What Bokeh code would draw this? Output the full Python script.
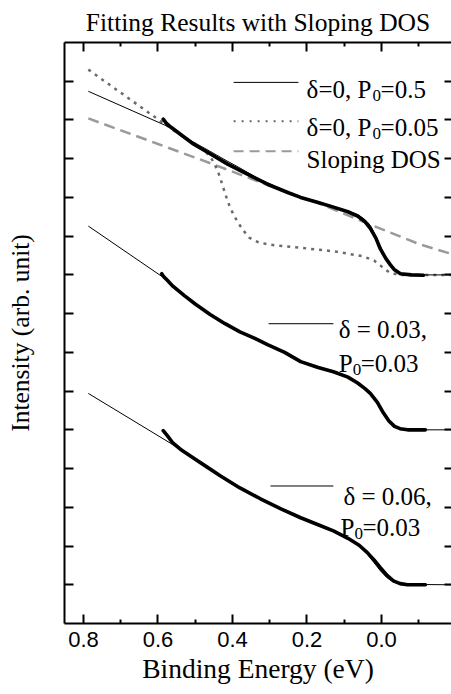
from bokeh.plotting import figure
from bokeh.models import (Range1d, FixedTicker, LinearAxis, Label, PrintfTickFormatter,
                          CustomJSTickFormatter, Title)
from bokeh.embed import file_html
from bokeh.resources import INLINE

# ---------------- data (binding energy in eV, intensity in arb. units) ----------------
x_ticks = [0.8, 0.6, 0.4, 0.2, 0.0]
x_minor = [0.7, 0.5, 0.3, 0.1, -0.1]
y_ticks = list(range(1, 15))

# top spectrum: measured data
top_data_x = [0.586, 0.578, 0.565, 0.548, 0.505, 0.459, 0.413, 0.36, 0.306, 0.25, 0.217, 0.17,
              0.129, 0.09, 0.064, 0.045, 0.03, 0.015, 0.003, -0.012, -0.024, -0.035, -0.051, -0.08, -0.113]
top_data_y = [13.02, 12.92, 12.81, 12.69, 12.38, 12.12, 11.86, 11.6, 11.34, 11.12, 11.0, 10.87,
              10.75, 10.63, 10.52, 10.38, 10.2, 9.95, 9.67, 9.42, 9.26, 9.13, 9.03, 9.0, 8.99]
# top spectrum: fit delta=0, P0=0.5
top_fit_x = [0.787, 0.566, 0.54, 0.505, 0.46, 0.42, 0.38, 0.34, 0.306, 0.26, 0.217, 0.17, 0.129,
             0.09, 0.064, 0.045, 0.03, 0.015, 0.0, -0.015, -0.03, -0.05, -0.08, -0.188]
top_fit_y = [13.74, 12.80, 12.64, 12.43, 12.19, 11.97, 11.76, 11.54, 11.38, 11.17, 11.02, 10.88, 10.77,
             10.65, 10.56, 10.43, 10.28, 10.0, 9.68, 9.40, 9.17, 9.04, 9.0, 9.0]
# top spectrum: fit delta=0, P0=0.05
dot_x = [0.787, 0.593, 0.55, 0.5, 0.47, 0.455, 0.44, 0.428, 0.418, 0.408, 0.397, 0.387, 0.372,
         0.355, 0.33, 0.3, 0.217, 0.12, 0.05, 0.02, 0.0, -0.02, -0.045, -0.188]
dot_y = [14.3, 12.97, 12.68, 12.38, 12.16, 11.98, 11.70, 11.35, 11.05, 10.78, 10.55, 10.38, 10.16,
         9.96, 9.84, 9.78, 9.70, 9.6, 9.48, 9.37, 9.22, 9.07, 9.0, 9.0]
# top spectrum: sloping DOS
dos_x = [0.787, 0.6, 0.45, 0.3, 0.15, 0.03, -0.1, -0.188]
dos_y = [13.04, 12.38, 11.85, 11.3, 10.78, 10.3, 9.8, 9.54]

# middle spectrum (delta=0.03, P0=0.03)
mid_data_x = [0.59, 0.585, 0.575, 0.56, 0.53, 0.5, 0.46, 0.42, 0.38, 0.34, 0.306, 0.26, 0.217, 0.17,
              0.129, 0.09, 0.064, 0.045, 0.03, 0.011, -0.005, -0.02, -0.035, -0.05, -0.07, -0.118]
mid_data_y = [9.03, 8.96, 8.86, 8.71, 8.47, 8.25, 7.98, 7.74, 7.53, 7.36, 7.2, 7.0, 6.76, 6.61,
              6.5, 6.36, 6.21, 6.07, 5.94, 5.71, 5.44, 5.23, 5.09, 5.03, 5.0, 5.0]
mid_fit_x = [0.787, 0.588, 0.56, 0.53, 0.5, 0.46, 0.42, 0.38, 0.34, 0.306, 0.26, 0.217, 0.17, 0.129,
             0.09, 0.064, 0.045, 0.03, 0.011, -0.005, -0.02, -0.035, -0.05, -0.07, -0.188]
mid_fit_y = [10.26, 8.95, 8.71, 8.48, 8.26, 7.99, 7.75, 7.54, 7.36, 7.2, 7.0, 6.78, 6.62, 6.5,
             6.36, 6.22, 6.09, 5.96, 5.72, 5.44, 5.21, 5.08, 5.02, 5.0, 5.0]

# bottom spectrum (delta=0.06, P0=0.03)
bot_data_x = [0.586, 0.575, 0.56, 0.54, 0.505, 0.47, 0.432, 0.38, 0.325, 0.27, 0.217, 0.17, 0.129,
              0.09, 0.06, 0.038, 0.02, 0.003, -0.015, -0.032, -0.05, -0.07, -0.118]
bot_data_y = [4.98, 4.85, 4.66, 4.50, 4.27, 4.05, 3.81, 3.5, 3.22, 2.96, 2.73, 2.55, 2.39,
              2.2, 2.02, 1.83, 1.64, 1.44, 1.24, 1.1, 1.03, 1.0, 1.0]
bot_fit_x = [0.787, 0.54, 0.505, 0.47, 0.432, 0.38, 0.325, 0.27, 0.217, 0.17, 0.129, 0.09, 0.06,
             0.038, 0.02, 0.003, -0.015, -0.035, -0.06, -0.188]
bot_fit_y = [5.94, 4.50, 4.28, 4.06, 3.83, 3.51, 3.22, 2.96, 2.73, 2.55, 2.39, 2.2, 2.0,
             1.79, 1.57, 1.36, 1.18, 1.06, 1.01, 1.0]

SERIF = "Liberation Serif"
SANS = "Liberation Sans"

p = figure(width=451, height=694, output_backend="svg", toolbar_location=None,
           x_range=Range1d(0.851, -0.188), y_range=Range1d(0, 15),
           min_border_left=64, min_border_right=0, min_border_top=40, min_border_bottom=71,
           title=None)
p.grid.visible = False
p.outline_line_color = None
p.background_fill_color = "white"
p.border_fill_color = "white"

blank = CustomJSTickFormatter(code="return ''")

xa = p.xaxis[0]
xa.ticker = FixedTicker(ticks=x_ticks, minor_ticks=x_minor)
xa.formatter = PrintfTickFormatter(format="%.1f")
xa.major_label_text_font = SANS
xa.major_label_text_font_size = "22px"
xa.major_label_standoff = 8
xa.axis_label = "Binding Energy (eV)"
xa.axis_label_text_font = SERIF
xa.axis_label_text_font_size = "27.5px"
xa.axis_label_text_font_style = "normal"
xa.axis_label_standoff = 3

ya = p.yaxis[0]
ya.ticker = FixedTicker(ticks=y_ticks, minor_ticks=[])
ya.formatter = blank
ya.major_label_text_font_size = "1px"
ya.major_label_standoff = 0
ya.axis_label = "Intensity (arb. unit)"
ya.axis_label_text_font = SERIF
ya.axis_label_text_font_size = "25.5px"
ya.axis_label_text_font_style = "normal"
ya.axis_label_standoff = 30

top_ax = LinearAxis(ticker=FixedTicker(ticks=x_ticks, minor_ticks=x_minor), formatter=blank,
                    major_label_text_font_size="1px", major_label_standoff=0)
right_ax = LinearAxis(ticker=FixedTicker(ticks=y_ticks, minor_ticks=[]), formatter=blank,
                      major_label_text_font_size="1px", major_label_standoff=0,
                      axis_line_color=None)
p.add_layout(top_ax, "above")
p.add_layout(right_ax, "right")
p.add_layout(Title(text="Fitting Results with Sloping DOS", text_font=SERIF,
                   text_font_size="25.5px", text_font_style="normal", text_color="black",
                   align="center", standoff=11, offset=0), "above")

for ax in [xa, ya, top_ax, right_ax]:
    ax.major_tick_in = 9
    ax.major_tick_out = 0
    ax.minor_tick_in = 4
    ax.minor_tick_out = 0
    ax.major_tick_line_width = 2
    ax.minor_tick_line_width = 2
    ax.major_tick_line_color = "black"
    ax.minor_tick_line_color = "black"
    ax.major_label_text_color = "black"
    ax.axis_label_text_color = "black"
for ax in [xa, ya, top_ax]:
    ax.axis_line_width = 2
    ax.axis_line_color = "black"
right_ax.major_tick_in = 7

# curves
DOT_C = "#6a6a6a"
DASH_C = "#9a9a9a"
p.line(dos_x, dos_y, line_color=DASH_C, line_width=2.5, line_dash="11 6")
p.line(dot_x, dot_y, line_color=DOT_C, line_width=2.5, line_dash="3 5")
for dx, dy in [(top_data_x, top_data_y), (mid_data_x, mid_data_y), (bot_data_x, bot_data_y)]:
    p.line(dx, dy, line_color="black", line_width=3.6, line_join="round", line_cap="round")
for fx, fy in [(top_fit_x, top_fit_y), (mid_fit_x, mid_fit_y), (bot_fit_x, bot_fit_y)]:
    p.line(fx, fy, line_color="black", line_width=1)

# ---------------- legend-like annotations (layout) ----------------
def text(x, y, s, size=25, dx=0, dy=0):
    p.add_layout(Label(x=x, y=y, text=s, x_offset=dx, y_offset=dy,
                       text_font=SERIF, text_font_size=f"{size}px",
                       text_baseline="alphabetic", text_align="left", text_color="black"))

def sample(x0, x1, y, color="black", width=1, dash="solid"):
    p.line([x0, x1], [y, y], line_color=color, line_width=width, line_dash=dash)

# top legend
sample(0.397, 0.223, 13.97)
sample(0.397, 0.223, 12.97, color=DOT_C, width=2, dash="2 6")
sample(0.397, 0.223, 12.19, color=DASH_C, width=2, dash="10 6")
text(0.201, 13.79, "δ=0, P")
text(0.201, 13.79, "0", size=17, dx=66, dy=-6)
text(0.201, 13.79, "=0.5", dx=74)
text(0.201, 12.81, "δ=0, P")
text(0.201, 12.81, "0", size=17, dx=66, dy=-6)
text(0.201, 12.81, "=0.05", dx=74)
text(0.201, 11.99, "Sloping DOS")

# middle legend
sample(0.303, 0.129, 7.74)
text(0.115, 7.59, "δ = 0.03,")
text(0.115, 6.71, "P")
text(0.115, 6.71, "0", size=17, dx=14, dy=-6)
text(0.115, 6.71, "=0.03", dx=22)

# bottom legend
sample(0.298, 0.129, 3.55)
text(0.102, 3.29, "δ = 0.06,")
text(0.110, 2.47, "P")
text(0.110, 2.47, "0", size=17, dx=14, dy=-6)
text(0.110, 2.47, "=0.03", dx=22)

open("out.html", "w").write(file_html(p, INLINE))
